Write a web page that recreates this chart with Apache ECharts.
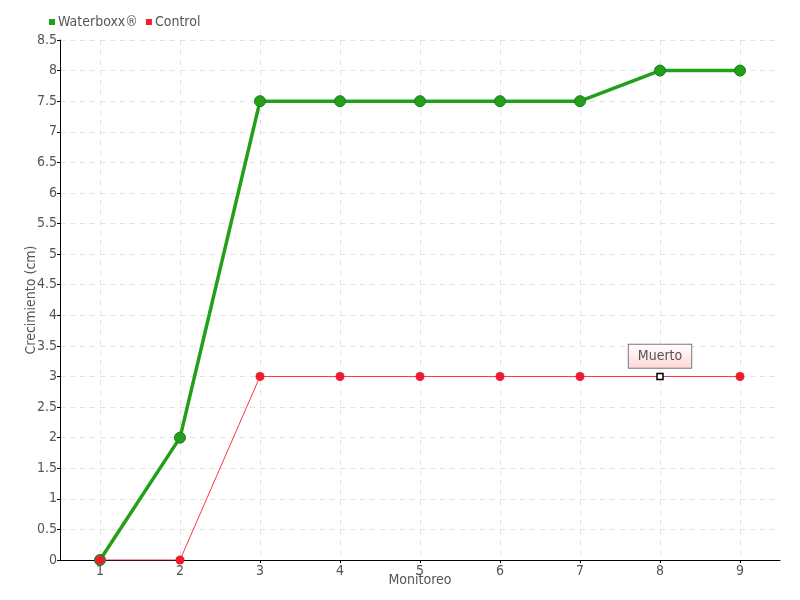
<!DOCTYPE html>
<html><head><meta charset="utf-8">
<script src="https://cdn.jsdelivr.net/npm/echarts@6/dist/echarts.min.js"></script>
<style>html,body{margin:0;padding:0;background:#fff}#c{width:800px;height:600px}</style>
</head><body><div id="c"></div>
<script>
const categories = ['1','2','3','4','5','6','7','8','9'];
const waterboxx = [0, 2, 7.5, 7.5, 7.5, 7.5, 7.5, 8, 8];
const control = [0, 0, 3, 3, 3, 3, 3, 3, 3];
const annotations = [{index: 7, text: 'Muerto'}];

const FONT = '"DejaVu Sans Condensed", "Liberation Sans Narrow", sans-serif';
const TXT = '#555';

const controlData = control.map((v, i) => {
  const a = annotations.find(x => x.index === i);
  if (!a) return v;
  return {
    value: v,
    symbol: 'rect',
    symbolSize: 6,
    itemStyle: {color: '#fff', borderColor: '#000', borderWidth: 1.5},
    label: {
      show: true, formatter: a.text, position: 'top', distance: 5,
      fontFamily: FONT, fontSize: 14, color: TXT,
      backgroundColor: {type: 'linear', x: 0, y: 0, x2: 0, y2: 1,
        colorStops: [{offset: 0, color: '#ffffff'}, {offset: 1, color: '#ffd6d6'}]},
      borderColor: '#777', borderWidth: 1, padding: [5, 9, 4, 9]
    }
  };
});

const chart = echarts.init(document.getElementById('c'));
chart.setOption({
  animation: false,
  textStyle: {fontFamily: FONT, color: TXT},
  legend: {
    left: 44, top: 10, itemWidth: 6, itemHeight: 6, itemGap: 8,
    icon: 'rect',
    itemStyle: {borderWidth: 0},
    textStyle: {fontFamily: FONT, fontSize: 14, color: TXT, padding: [0, 0, 0, -2]},
    data: ['Waterboxx®', 'Control']
  },
  grid: {left: 60, right: 20, top: 40, bottom: 40, containLabel: false, outerBoundsMode: 'none'},
  xAxis: {
    type: 'category', data: categories, boundaryGap: true,
    name: 'Monitoreo', nameLocation: 'middle', nameGap: 13, nameMoveOverlap: false,
    nameTextStyle: {fontFamily: FONT, fontSize: 14, color: TXT},
    axisLine: {lineStyle: {color: '#000', width: 1}},
    axisTick: {show: true, alignWithLabel: true, length: 3, lineStyle: {color: '#000'}},
    axisLabel: {fontFamily: FONT, fontSize: 14, color: TXT, margin: 4},
    splitLine: {show: true, alignWithLabel: true, lineStyle: {type: [5, 5], color: '#e2e2e2'}}
  },
  yAxis: {
    type: 'value', min: 0, max: 8.5, interval: 0.5,
    name: 'Crecimiento (cm)', nameLocation: 'middle', nameGap: 22, nameMoveOverlap: false,
    nameTextStyle: {fontFamily: FONT, fontSize: 14, color: TXT},
    axisLine: {show: true, lineStyle: {color: '#000', width: 1}},
    axisTick: {show: true, length: 3, lineStyle: {color: '#000'}},
    axisLabel: {fontFamily: FONT, fontSize: 14, color: TXT, margin: 3},
    splitLine: {show: true, lineStyle: {type: [5, 5], color: '#e2e2e2'}}
  },
  series: [
    {
      name: 'Waterboxx®', type: 'line', data: waterboxx,
      color: '#22a01a',
      symbol: 'circle', symbolSize: 11,
      lineStyle: {width: 3.5, color: '#22a01a'},
      itemStyle: {color: '#22a01a', borderColor: '#1a7a1a', borderWidth: 1},
      z: 2
    },
    {
      name: 'Control', type: 'line', data: controlData,
      color: '#ee1c2c',
      symbol: 'circle', symbolSize: 9,
      lineStyle: {width: 1, color: '#ff3344'},
      itemStyle: {color: '#ee1c2c', borderWidth: 0},
      z: 3
    }
  ]
});
</script></body></html>
